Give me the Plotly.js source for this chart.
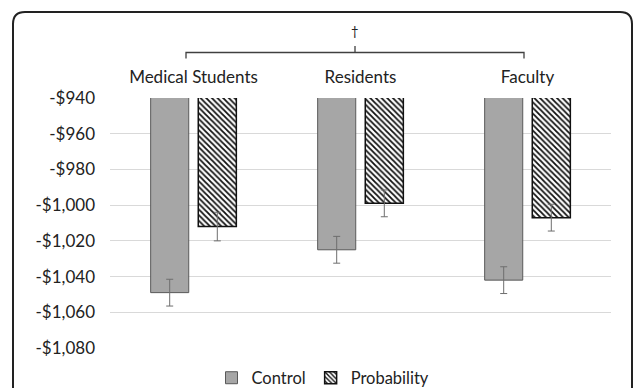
<!DOCTYPE html>
<html>
<head>
<meta charset="utf-8">
<script src="https://cdn.plot.ly/plotly-3.0.1.min.js"></script>
<style>html,body{margin:0;padding:0;background:#fff;}#chart{width:634px;height:388px;}</style>
</head>
<body>
<div id="chart"></div>
<script>
// ---- data ----
const categories = ["Medical Students", "Residents", "Faculty"];
const controlValues = [-1049, -1025, -1042];
const probabilityValues = [-1012, -999, -1007];
const controlErrors = [7.5, 7.5, 7.5];
const probabilityErrors = [8, 7.5, 7.5];
const tickValues = [-940, -960, -980, -1000, -1020, -1040, -1060, -1080];
const tickLabels = ["-$940", "-$960", "-$980", "-$1,000", "-$1,020", "-$1,040", "-$1,060", "-$1,080"];
const seriesNames = ["Control", "Probability"];
const significanceMark = "\u2020";

// ---- layout helpers (pixel -> paper) ----
const W = 634, H = 388;
const M = {l: 110, r: 23, t: 98, b: 40, autoexpand: false};
const pw = W - M.l - M.r, ph = H - M.t - M.b;
const px = x => (x - M.l) / pw;
const py = y => (H - M.b - y) / ph;

const textColor = "#222222";
const fontFam = "Lato, 'Open Sans', sans-serif";

const traces = [
  {
    type: "bar", name: seriesNames[0], x: categories, y: controlValues,
    marker: {color: "#a6a6a6", line: {color: "#595959", width: 1}},
    error_y: {type: "data", array: controlErrors, visible: true, color: "#6e6e6e", thickness: 1, width: 3.5}
  },
  {
    type: "bar", name: seriesNames[1], x: categories, y: probabilityValues,
    marker: {color: "white", line: {color: "#111111", width: 1.5},
      pattern: {shape: "\\", fgcolor: "#111111", bgcolor: "white", size: 4, solidity: 0.45}},
    error_y: {type: "data", array: probabilityErrors, visible: true, color: "#6e6e6e", thickness: 1, width: 3.5}
  }
];

// frame (rounded, open at the bottom)
const r = 12;
const fx0 = 13, fx1 = 632, fy0 = 12, fyb = 420;
const framePath = `M ${px(fx0)},${py(fyb)} L ${px(fx0)},${py(fy0 + r)} Q ${px(fx0)},${py(fy0)} ${px(fx0 + r)},${py(fy0)} ` +
  `L ${px(fx1 - r)},${py(fy0)} Q ${px(fx1)},${py(fy0)} ${px(fx1)},${py(fy0 + r)} L ${px(fx1)},${py(fyb)}`;

// significance bracket
const bx0 = 186, bx1 = 524, bxm = 355, byl = 52.5;
const bracketPath = `M ${px(bx0)},${py(58.5)} L ${px(bx0)},${py(byl)} L ${px(bx1)},${py(byl)} L ${px(bx1)},${py(58.5)} ` +
  `M ${px(bxm)},${py(byl)} L ${px(bxm)},${py(46)}`;

const layout = {
  width: W, height: H,
  margin: M,
  paper_bgcolor: "white", plot_bgcolor: "white",
  font: {family: fontFam, size: 17, color: textColor},
  barmode: "group", bargap: 0.43, bargroupgap: 0.2,
  showlegend: true,
  legend: {orientation: "h", x: px(323), xanchor: "center", y: py(378), yanchor: "middle",
    font: {size: 16.5, color: textColor}, itemwidth: 30, tracegroupgap: 0},
  xaxis: {side: "top", showgrid: false, showline: false, ticks: "", zeroline: false,
    tickfont: {size: 17, color: textColor}, ticklabelstandoff: 11, fixedrange: true},
  yaxis: {range: [-1080, -940], tickvals: tickValues, ticktext: tickLabels,
    showgrid: true, gridcolor: "#d9d9d9", gridwidth: 1, zeroline: false, showline: false, ticks: "",
    tickfont: {size: 17, color: textColor}, ticklabelstandoff: 14, fixedrange: true},
  shapes: [
    {type: "path", xref: "paper", yref: "paper", path: framePath, line: {color: "#222222", width: 2}, layer: "above"},
    {type: "path", xref: "paper", yref: "paper", path: bracketPath, line: {color: "#404040", width: 1.3}}
  ],
  annotations: [
    {xref: "paper", yref: "paper", x: px(bxm), y: py(31), text: significanceMark, showarrow: false,
      font: {size: 13, color: "#222222"}, xanchor: "center", yanchor: "middle"}
  ]
};

Plotly.newPlot("chart", traces, layout, {displayModeBar: false, staticPlot: true});
</script>
</body>
</html>
